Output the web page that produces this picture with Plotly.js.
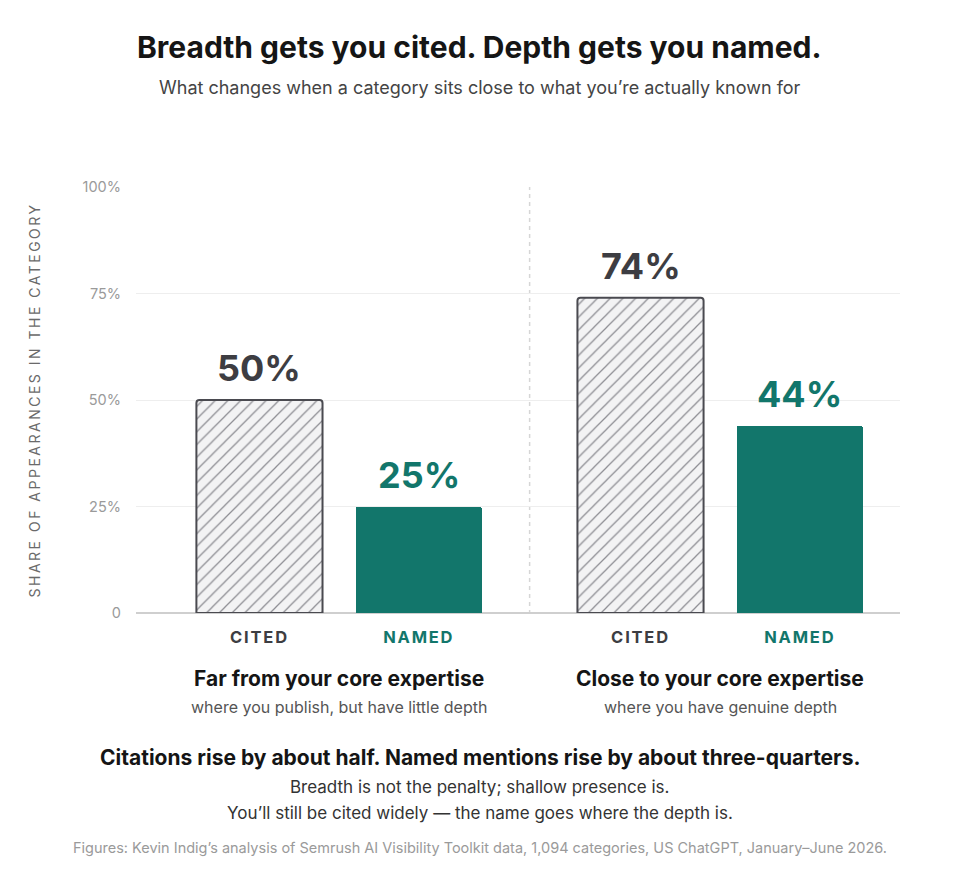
<!DOCTYPE html>
<html>
<head>
<meta charset="utf-8">
<script src="https://cdn.plot.ly/plotly-3.0.1.min.js"></script>
<style>
  body { margin: 0; background: #fff; }
  #chart { width: 960px; height: 884px; }
</style>
</head>
<body>
<div id="chart"></div>
<script>
// data
let groups = ['Far from your core expertise', 'Close to your core expertise'];
let groupNotes = ['where you publish, but have little depth', 'where you have genuine depth'];
let cited = [50, 74];
let named = [25, 44];
let yTicks = [0, 25, 50, 75, 100];
let yTickText = ['0', '25%', '50%', '75%', '100%'];

let font = 'Inter, "Liberation Sans", Arial, sans-serif';
let teal = '#12766b';
let dark = '#3d3d42';

let x = groups.map((g, i) => i);
let off = 0.209;
let barW = 0.331;
let pageMid = 0.45; // centre of the page, in paper units

let citedTrace = {
    type: 'bar',
    x: x.map(v => v - off),
    y: cited,
    width: barW,
    marker: {
        color: '#f3f3f4',
        line: {color: '#4a4a50', width: 2},
        pattern: {shape: '/', fgcolor: '#8e8e94', bgcolor: '#f3f3f4', size: 9, solidity: 0.14},
        cornerradius: 3
    },
    hoverinfo: 'skip'
};
let namedTrace = {
    type: 'bar',
    x: x.map(v => v + off),
    y: named,
    width: barW,
    marker: {color: teal, line: {width: 0}, cornerradius: 3},
    hoverinfo: 'skip'
};

let annotations = [];
// value labels
cited.forEach((v, i) => annotations.push({
    x: i - off, y: v, xref: 'x', yref: 'y', text: v + '%', showarrow: false,
    yanchor: 'bottom', yshift: 8, font: {family: font, size: 36, color: dark, weight: 700}
}));
named.forEach((v, i) => annotations.push({
    x: i + off, y: v, xref: 'x', yref: 'y', text: v + '%', showarrow: false,
    yanchor: 'bottom', yshift: 8, font: {family: font, size: 36, color: teal, weight: 700}
}));
// group titles
groups.forEach((g, i) => {
    annotations.push({
        x: i, y: 0, xref: 'x', yref: 'y', yshift: -65, yanchor: 'middle', text: g, showarrow: false,
        font: {family: font, size: 21, color: '#151515', weight: 700}
    });
    annotations.push({
        x: i, y: 0, xref: 'x', yref: 'y', yshift: -94, yanchor: 'middle', text: groupNotes[i], showarrow: false,
        font: {family: font, size: 16, color: '#555'}
    });
});
// header and footer texts
function note(y, shift, text, size, color, weight) {
    annotations.push({
        xref: 'paper', yref: 'paper', x: pageMid, y: y, yshift: shift,
        xanchor: 'center', yanchor: 'middle', text: text, showarrow: false,
        font: {family: font, size: size, color: color, weight: weight || 400}
    });
}
note(1, 140, 'Breadth gets you cited. Depth gets you named.', 30, '#151515', 700);
note(1, 100, 'What changes when a category sits close to what you\u2019re actually known for', 18, '#444');
note(0, -144, 'Citations rise by about half. Named mentions rise by about three-quarters.', 21, '#151515', 700);
note(0, -174, 'Breadth is not the penalty; shallow presence is.', 17, '#333');
note(0, -200, 'You\u2019ll still be cited widely \u2014 the name goes where the depth is.', 17, '#333');
note(0, -235, 'Figures: Kevin Indig\u2019s analysis of Semrush AI Visibility Toolkit data, 1,094 categories, US ChatGPT, January\u2013June 2026.', 14.5, '#9a9a9a');

let tickVals = [];
let tickText = [];
x.forEach(i => {
    tickVals.push(i - off, i + off);
    tickText.push('CITED', '<span style="color:' + teal + '">NAMED</span>');
});

let layout = {
    width: 960,
    height: 884,
    margin: {l: 136, r: 60, t: 187, b: 271},
    paper_bgcolor: '#fff',
    plot_bgcolor: '#fff',
    showlegend: false,
    bargap: 0,
    font: {family: font},
    xaxis: {
        range: [-0.533, 1.472],
        tickvals: tickVals,
        ticktext: tickText,
        ticks: '',
        ticklabelstandoff: 12,
        tickfont: {family: font, size: 16.5, color: dark, weight: 700},
        showgrid: false,
        zeroline: false,
        showline: false,
        fixedrange: true
    },
    yaxis: {
        range: [0, 100],
        tickvals: yTicks,
        ticktext: yTickText,
        ticks: '',
        ticklabelstandoff: 14,
        tickfont: {family: font, size: 14.5, color: '#9a9a9a'},
        gridcolor: '#eeeeee',
        gridwidth: 1,
        zeroline: true,
        zerolinecolor: '#cfcfcf',
        zerolinewidth: 1.5,
        showline: false,
        title: {text: 'SHARE OF APPEARANCES IN THE CATEGORY', font: {family: font, size: 14, color: '#6a6a6a'}, standoff: 38},
        fixedrange: true
    },
    shapes: [{
        type: 'line', xref: 'x', yref: 'y', x0: 0.5, x1: 0.5, y0: -4, y1: 100,
        line: {color: '#d6d6d6', width: 1.5, dash: '4px,4px'}, layer: 'below'
    }],
    annotations: annotations
};

Plotly.newPlot('chart', [citedTrace, namedTrace], layout, {displayModeBar: false, staticPlot: true}).then(function (gd) {
    // letter spacing for the small caps labels
    gd.querySelectorAll('.xtick text').forEach(t => t.style.letterSpacing = '1.8px');
    gd.querySelectorAll('.ytitle').forEach(t => t.style.letterSpacing = '2.5px');
});
</script>
</body>
</html>
